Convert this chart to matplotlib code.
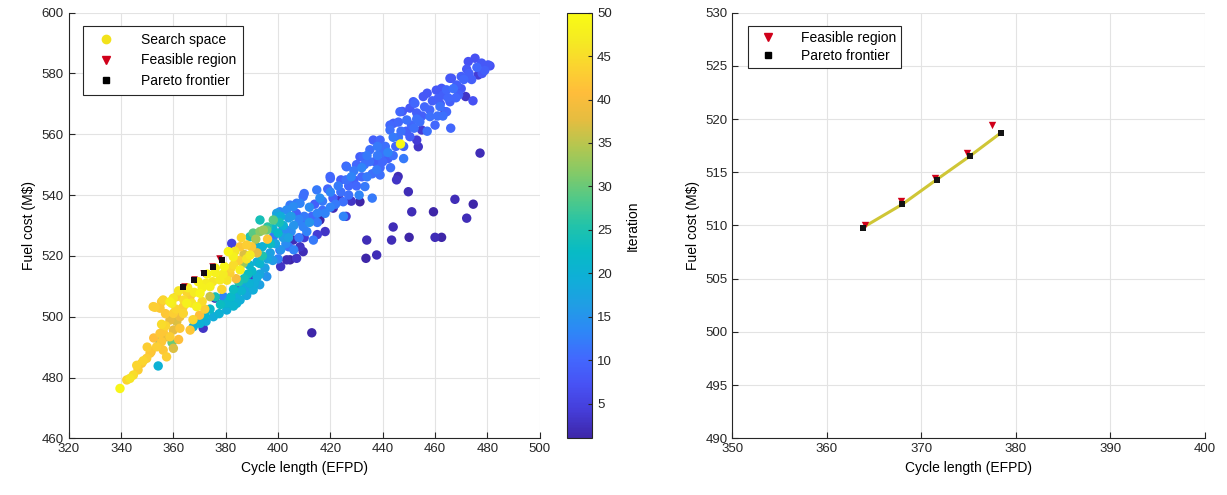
import matplotlib
matplotlib.use('Agg')
import matplotlib.pyplot as plt
from matplotlib.colors import LinearSegmentedColormap, Normalize
from matplotlib.lines import Line2D

plt.rcParams['font.family'] = ['Liberation Sans', 'DejaVu Sans']
plt.rcParams['font.size'] = 9.5

# search space points: (cycle length, fuel cost, iteration)
tail_pts = [
    (339.6, 476.4, 49), (342.2, 479.2, 44), (343.4, 479.7, 46), (344.7, 480.8, 45),
    (346.5, 482.5, 43), (347.9, 484.7, 42), (348.5, 485.5, 44), (349.8, 486.3, 43),
    (351.1, 488.0, 42), (351.5, 488.5, 41), (353.6, 490.1, 43), (355.5, 491.8, 42),
    (354.2, 483.8, 20), (354.9, 491.8, 21), (356.1, 495.1, 42), (357.4, 493.4, 38),
    (356.1, 489.0, 42), (357.4, 486.8, 43), (360.0, 489.6, 37), (352.3, 503.3, 43),
    (355.5, 504.9, 42), (359.4, 504.4, 47), (360.0, 501.1, 43), (361.3, 498.4, 37),
    (362.5, 496.2, 42), (363.8, 501.1, 44), (365.1, 504.4, 48), (366.4, 495.6, 42),
    (354.9, 494.5, 42), (358.7, 493.4, 43), (353.0, 503.1, 43), (356.1, 505.5, 44),
    (360.0, 506.1, 46), (358.7, 498.9, 38), (363.8, 503.3, 43), (360.0, 495.6, 38),
    (358.7, 504.9, 48), (361.3, 506.6, 43), (354.9, 502.8, 42), (359.5, 491.5, 30),
    (357.0, 497.0, 44), (362.0, 492.5, 41), (355.5, 497.5, 45), (352.5, 493.0, 41),
    (361.0, 502.5, 44), (357.0, 501.0, 42), (350.0, 490.0, 43), (346.0, 484.0, 44),
    (362.5, 500.0, 39),
]

front_pts = [
    (366.4, 506.6, 43), (368.9, 503.3, 48), (370.2, 507.7, 49), (374.0, 509.9, 48),
    (377.8, 512.1, 47), (381.6, 514.3, 43), (385.5, 515.4, 48), (386.7, 517.6, 33),
    (381.0, 521.4, 49), (382.9, 519.7, 48), (385.5, 523.0, 42), (388.0, 523.6, 43),
    (389.3, 520.3, 47), (389.9, 523.0, 42), (374.0, 506.6, 36), (365.1, 508.2, 44),
    (367.0, 504.5, 46), (371.0, 505.0, 45), (372.5, 511.0, 47), (376.0, 514.5, 48),
    (379.5, 516.5, 49), (383.0, 517.0, 45), (378.5, 509.0, 44), (380.5, 512.0, 46),
    (384.0, 512.5, 40), (383.5, 521.5, 46), (387.0, 520.5, 37), (376.0, 516.0, 48),
    (373.0, 514.0, 49), (369.5, 511.5, 48), (365.5, 509.5, 47), (362.0, 508.5, 46),
    (370.0, 500.5, 41), (367.5, 499.0, 44), (372.0, 502.5, 43), (391.5, 525.5, 34),
    (393.1, 528.0, 32), (395.7, 528.5, 30), (394.4, 528.5, 33), (398.2, 531.8, 29),
    (396.0, 525.5, 42), (390.5, 527.5, 29), (386.0, 526.0, 44), (392.0, 521.0, 38),
    (364.0, 505.5, 45), (368.0, 508.0, 47), (371.0, 509.5, 48), (375.0, 511.5, 46),
    (379.0, 514.0, 47), (382.0, 516.0, 44), (385.0, 518.5, 43), (388.0, 519.0, 46),
]

teal_pts = [
    (367.6, 496.7, 19), (370.2, 497.8, 20), (372.5, 498.5, 19), (375.3, 500.0, 19),
    (377.5, 501.0, 20), (380.4, 502.2, 19), (383.0, 503.5, 21), (385.5, 505.5, 19),
    (388.0, 507.0, 18), (390.5, 508.8, 19), (393.0, 510.5, 17), (395.7, 513.2, 15),
    (380.4, 504.4, 21), (384.2, 504.4, 20), (389.3, 508.8, 17), (374.0, 502.5, 22),
    (378.0, 504.0, 23), (382.0, 506.5, 22), (386.0, 508.5, 21), (389.0, 511.0, 20),
    (392.0, 513.0, 19), (376.0, 506.5, 24), (379.1, 506.6, 13), (383.0, 509.0, 23),
    (387.0, 512.5, 24), (390.0, 515.0, 22), (393.0, 517.5, 21), (396.0, 519.0, 18),
    (389.3, 526.3, 25), (391.8, 523.0, 19), (399.5, 532.9, 18), (403.3, 535.1, 14),
    (407.1, 537.3, 12), (393.1, 531.8, 24), (399.5, 534.0, 17), (405.8, 536.2, 14),
    (408.4, 537.3, 13), (394.0, 520.0, 25), (397.0, 524.0, 23), (400.0, 527.5, 22),
    (402.0, 530.0, 20), (396.0, 529.5, 26), (400.5, 531.0, 24), (395.0, 516.0, 17),
    (398.0, 518.5, 16), (401.0, 522.0, 15), (404.0, 526.0, 17), (406.0, 530.0, 15),
    (409.6, 529.6, 13), (403.3, 528.5, 14), (398.2, 526.3, 12), (400.7, 521.9, 11),
    (410.0, 533.0, 12), (404.0, 532.5, 16), (388.5, 514.0, 23), (385.0, 511.5, 25),
    (372.0, 500.5, 21), (369.0, 499.0, 18), (381.0, 505.0, 18), (384.0, 507.0, 19),
    (387.0, 510.0, 18), (391.0, 511.0, 19), (393.0, 514.0, 18), (394.0, 523.0, 20),
    (397.0, 521.0, 17), (399.0, 524.0, 18), (402.0, 526.0, 16), (398.0, 529.0, 21),
    (401.0, 533.0, 19), (405.0, 533.0, 16), (392.0, 518.0, 19), (389.0, 517.0, 21),
]

blue_pts = [
    (400.7, 534.5, 13), (404.6, 536.7, 12), (409.6, 539.5, 11), (414.8, 541.7, 12),
    (419.9, 546.1, 10), (426.2, 549.3, 11), (431.3, 552.6, 9), (432.6, 552.6, 10),
    (435.1, 554.9, 11), (436.4, 558.1, 9), (439.0, 558.1, 10), (442.8, 561.4, 11),
    (444.1, 563.6, 9), (446.6, 567.4, 10), (449.2, 564.7, 11), (450.4, 568.6, 8),
    (451.7, 570.7, 9), (452.3, 570.2, 10), (455.5, 572.4, 8), (458.1, 565.8, 11),
    (461.2, 571.8, 9), (462.5, 575.1, 8), (463.1, 572.9, 9), (464.4, 574.6, 10),
    (465.7, 578.4, 8), (466.3, 578.4, 8), (468.3, 576.2, 9), (465.7, 570.7, 9),
    (464.4, 567.4, 10), (461.9, 569.1, 11), (454.2, 564.1, 11), (450.4, 559.2, 9),
    (472.7, 583.9, 7), (475.3, 585.0, 7), (477.8, 583.4, 8), (481.0, 582.5, 7),
    (480.3, 582.8, 8), (472.1, 581.4, 8), (442.8, 563.0, 10), (439.0, 546.6, 11),
    (437.7, 548.3, 12), (433.2, 542.8, 12), (424.9, 537.8, 11), (413.5, 525.2, 12),
    (405.0, 528.0, 14), (408.0, 532.0, 13), (412.0, 536.0, 14), (415.0, 534.0, 13),
    (417.0, 538.0, 12), (420.0, 541.0, 13), (423.0, 543.0, 12), (426.0, 545.0, 11),
    (429.0, 548.0, 12), (432.0, 549.0, 13), (435.0, 551.0, 11), (438.0, 553.0, 12),
    (441.0, 556.0, 11), (444.0, 559.0, 12), (447.0, 561.0, 11), (448.0, 556.0, 10),
    (444.0, 553.0, 11), (440.0, 551.0, 10), (436.0, 547.0, 11), (430.0, 543.0, 10),
    (427.0, 540.0, 11), (422.0, 537.0, 12), (418.0, 534.0, 13), (415.0, 531.0, 12),
    (411.0, 528.0, 13), (408.0, 526.0, 12), (406.0, 522.0, 13), (403.0, 524.0, 14),
    (400.0, 519.0, 13), (412.0, 531.0, 15), (416.0, 539.0, 14), (420.0, 536.0, 13),
    (428.0, 546.0, 13), (434.0, 546.0, 12), (442.0, 554.0, 13), (446.0, 564.0, 10),
    (453.0, 567.0, 9), (456.0, 569.0, 10), (459.0, 571.0, 9), (457.0, 561.0, 11),
    (460.0, 563.0, 10), (463.0, 566.0, 11), (468.0, 572.0, 10), (470.0, 575.0, 8),
    (466.0, 562.0, 10), (452.0, 562.0, 11), (470.0, 579.0, 9), (474.0, 578.0, 9),
    (478.0, 580.0, 8), (443.0, 549.0, 11), (448.0, 552.0, 12), (431.0, 540.0, 13),
    (436.0, 539.0, 12), (425.0, 533.0, 13), (410.0, 540.5, 11), (420.0, 545.5, 10),
    (426.0, 549.5, 9), (447.5, 567.5, 8), (457.0, 573.5, 8), (460.5, 574.5, 8),
    (474.5, 571.0, 7), (402.0, 529.0, 10), (404.0, 523.0, 11), (407.0, 534.0, 9),
    (409.0, 531.0, 11), (413.0, 533.0, 10), (414.0, 537.0, 9), (417.0, 535.0, 11),
    (419.0, 542.0, 10), (421.0, 539.0, 9), (424.0, 541.0, 11), (424.0, 545.0, 9),
    (427.0, 543.0, 10), (429.0, 545.0, 9), (432.0, 546.0, 10), (433.0, 550.0, 11),
    (437.0, 551.0, 9), (439.0, 549.0, 10), (440.0, 554.0, 11), (442.0, 552.0, 9),
    (445.0, 556.0, 10), (446.0, 559.0, 11), (449.0, 561.0, 9), (451.0, 563.0, 10),
    (453.0, 565.0, 11), (455.0, 566.0, 9), (458.0, 568.0, 10), (461.0, 566.0, 11),
    (462.0, 570.0, 9), (465.0, 572.0, 10), (467.0, 575.0, 11), (469.0, 573.0, 9),
    (471.0, 578.0, 10), (473.0, 580.0, 9), (476.0, 582.0, 10), (479.0, 581.0, 9),
    (438.0, 556.0, 12), (434.0, 553.0, 12), (430.0, 550.0, 10),
]

dark_pts = [
    (371.4, 496.2, 3), (375.9, 506.1, 2), (389.3, 513.2, 3), (388.0, 512.1, 4),
    (382.3, 524.1, 5), (403.3, 518.7, 2), (404.6, 518.7, 1), (407.1, 519.2, 3),
    (409.6, 521.4, 2), (408.4, 523.0, 3), (405.8, 525.2, 2), (412.2, 531.8, 2),
    (416.0, 531.8, 1), (421.1, 535.7, 2), (431.3, 537.8, 1), (423.7, 538.4, 3),
    (433.9, 525.2, 2), (433.6, 519.2, 1), (437.7, 520.3, 2), (444.0, 529.5, 2),
    (443.4, 525.2, 2), (450.1, 526.1, 1), (451.1, 534.5, 2), (459.4, 534.5, 1),
    (460.0, 526.1, 2), (462.5, 526.1, 1), (467.6, 538.6, 2), (474.6, 537.0, 1),
    (472.1, 532.4, 2), (445.3, 545.0, 3), (449.8, 541.1, 2), (453.0, 558.1, 4),
    (453.6, 555.9, 3), (454.9, 561.4, 4), (445.9, 546.1, 2), (463.8, 567.4, 4),
    (471.7, 572.4, 3), (476.5, 579.5, 4), (477.2, 553.8, 2), (412.9, 494.7, 1),
    (418.0, 528.0, 3), (426.0, 533.0, 4), (428.0, 538.0, 3), (415.0, 527.0, 4),
    (410.0, 526.0, 4), (401.0, 516.5, 3), (385.0, 509.5, 5),
]

late_pts = [(446.8, 556.8, 50)]

# feasible region and Pareto frontier
feasible_x = [364.0, 367.8, 371.4, 374.8, 377.5]
feasible_y = [510.0, 512.3, 514.5, 516.8, 519.4]
pareto_x = [363.8, 368.0, 371.6, 375.1, 378.4]
pareto_y = [509.8, 512.0, 514.3, 516.5, 518.7]

parula_anchors = [
    (0.2422, 0.1504, 0.6603), (0.2691, 0.2395, 0.8480), (0.2810, 0.3228, 0.9579),
    (0.2586, 0.4091, 0.9954), (0.1786, 0.5289, 0.9682), (0.1258, 0.6189, 0.8963),
    (0.0590, 0.6838, 0.8449), (0.0286, 0.7325, 0.7732), (0.1342, 0.7652, 0.6651),
    (0.3148, 0.7874, 0.5345), (0.5186, 0.7911, 0.4049), (0.7074, 0.7785, 0.3108),
    (0.9000, 0.7400, 0.2500), (0.9990, 0.7400, 0.2300), (0.9843, 0.8300, 0.1871),
    (0.9596, 0.9206, 0.1348), (0.9769, 0.9839, 0.0805),
]
parula = LinearSegmentedColormap.from_list('parula', parula_anchors)

grid_col = '#e3e3e3'
spine_col = '#262626'


def style_axes(ax):
    ax.grid(True, color=grid_col, linewidth=0.8)
    ax.set_axisbelow(True)
    for side in ['top', 'right']:
        ax.spines[side].set_visible(False)
    for side in ['left', 'bottom']:
        ax.spines[side].set_color(spine_col)
        ax.spines[side].set_linewidth(0.8)
    ax.tick_params(direction='in', length=4, colors=spine_col, labelsize=9.5)


fig = plt.figure(figsize=(12.27, 4.95), dpi=100)
ax1 = fig.add_axes([68.7 / 1227, 0.1145, 471 / 1227, 0.86])
cax = fig.add_axes([567.3 / 1227, 0.1145, 25 / 1227, 0.86])
ax2 = fig.add_axes([732.3 / 1227, 0.1145, 472.7 / 1227, 0.86])

# left: search space coloured by iteration
pts = dark_pts + blue_pts + teal_pts + front_pts + tail_pts + late_pts
pts = sorted(pts, key=lambda p: p[2])
xs = [p[0] for p in pts]
ys = [p[1] for p in pts]
its = [p[2] for p in pts]
norm = Normalize(vmin=1, vmax=50)
sc = ax1.scatter(xs, ys, c=its, cmap=parula, norm=norm, s=46, linewidths=0, zorder=2)
ax1.scatter(feasible_x, feasible_y, marker='v', s=22, color='#c0001a', linewidths=0, zorder=3)
ax1.scatter(pareto_x, pareto_y, marker='s', s=18, color='#140a14', linewidths=0, zorder=4)

ax1.set_xlim(320, 500)
ax1.set_ylim(460, 600)
ax1.set_xticks(range(320, 501, 20))
ax1.set_yticks(range(460, 601, 20))
style_axes(ax1)
ax1.set_xlabel('Cycle length (EFPD)', fontsize=10)
ax1.set_ylabel('Fuel cost (M\\$)', fontsize=10)

handles = [
    Line2D([], [], marker='o', linestyle='none', color='#f2e21a', markersize=6),
    Line2D([], [], marker='v', linestyle='none', color='#d0001a', markersize=6),
    Line2D([], [], marker='s', linestyle='none', color='black', markersize=4),
]
leg = ax1.legend(handles, ['Search space', 'Feasible region', 'Pareto frontier'],
                 loc='upper left', bbox_to_anchor=(0.03, 0.968), fontsize=10,
                 fancybox=False, framealpha=1, edgecolor=spine_col,
                 handlelength=2.4, handletextpad=1.3, borderpad=0.5,
                 labelspacing=0.45, borderaxespad=0)
leg.get_frame().set_linewidth(0.8)

cb = fig.colorbar(sc, cax=cax, ticks=range(5, 51, 5))
cb.outline.set_linewidth(0.8)
cb.outline.set_edgecolor(spine_col)
cax.tick_params(direction='in', length=3, colors=spine_col, labelsize=9.5)
cb.set_label('Iteration', fontsize=10, labelpad=10)

# right: Pareto frontier zoom
ax2.plot(pareto_x, pareto_y, color='#cfc636', linewidth=2.2, zorder=2)
ax2.scatter(feasible_x, feasible_y, marker='v', s=28, color='#d0001a', linewidths=0, zorder=3)
ax2.scatter(pareto_x, pareto_y, marker='s', s=20, color='#141414', linewidths=0, zorder=4)
ax2.set_xlim(350, 400)
ax2.set_ylim(490, 530)
ax2.set_xticks(range(350, 401, 10))
ax2.set_yticks(range(490, 531, 5))
style_axes(ax2)
ax2.set_xlabel('Cycle length (EFPD)', fontsize=10)
ax2.set_ylabel('Fuel cost (M\\$)', fontsize=10)

handles2 = [
    Line2D([], [], marker='v', linestyle='none', color='#d0001a', markersize=6),
    Line2D([], [], marker='s', linestyle='none', color='black', markersize=4),
]
leg2 = ax2.legend(handles2, ['Feasible region', 'Pareto frontier'],
                  loc='upper left', bbox_to_anchor=(0.033, 0.968), fontsize=10,
                  fancybox=False, framealpha=1, edgecolor=spine_col,
                  handlelength=2.2, handletextpad=1.3, borderpad=0.35,
                  labelspacing=0.3, borderaxespad=0)
leg2.get_frame().set_linewidth(0.8)

fig.savefig('out.png', dpi=100, facecolor='white')
